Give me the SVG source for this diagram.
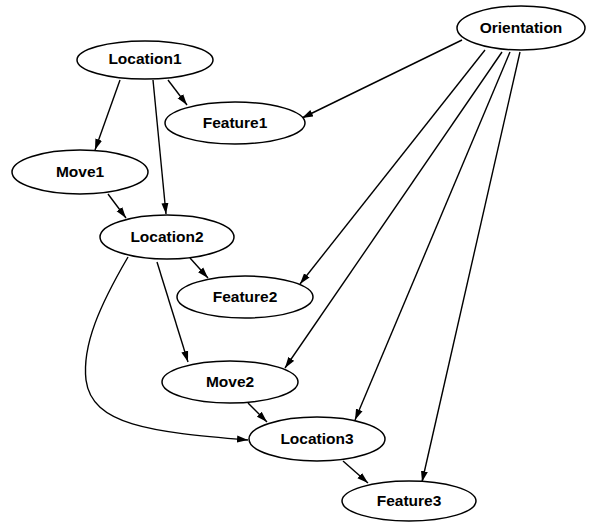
<svg xmlns="http://www.w3.org/2000/svg" width="589" height="524" viewBox="0 0 589 524">
<defs>
<marker id="ah" markerWidth="12" markerHeight="8" refX="11" refY="4" orient="auto" markerUnits="userSpaceOnUse">
<path d="M0,0.5 L11,4 L0,7.5 Z" fill="#000"/>
</marker>
<style>
.n ellipse{fill:#fff;stroke:#000;stroke-width:1.5}
.n text{font-family:"Liberation Sans",Arial,sans-serif;font-weight:bold;font-size:15.5px;text-anchor:middle;fill:#000}
.e path{fill:none;stroke:#000;stroke-width:1.4;marker-end:url(#ah)}
</style>
</defs>
<rect width="589" height="524" fill="#fff"/>
<g class="e" id="edges">
<path d="M168,80 L187,105"/>
<path d="M120,80 L95,150"/>
<path d="M153,80 L166,214"/>
<path d="M108,194 L126,218"/>
<path d="M190,258 L208,278"/>
<path d="M157,262 L188,362"/>
<path d="M128,257 C100,305 82,345 86,380 C92,425 150,432 248,440"/>
<path d="M248,403 L267,422"/>
<path d="M343,461 L368,483"/>
<path d="M462,40 L302,118"/>
<path d="M485,50 L300,284"/>
<path d="M502,52 L285,368"/>
<path d="M510,52 L355,420"/>
<path d="M520,52 L422,482"/>
</g>
<g class="n" id="Location1"><ellipse cx="145" cy="60" rx="68" ry="19"/><text x="145" y="64">Location1</text></g>
<g class="n" id="Orientation"><ellipse cx="521" cy="28" rx="64" ry="22"/><text x="521" y="33">Orientation</text></g>
<g class="n" id="Feature1"><ellipse cx="235" cy="123" rx="70" ry="21"/><text x="235" y="128">Feature1</text></g>
<g class="n" id="Move1"><ellipse cx="80" cy="172" rx="68" ry="22"/><text x="80" y="177">Move1</text></g>
<g class="n" id="Location2"><ellipse cx="167" cy="237" rx="67" ry="22"/><text x="167" y="242">Location2</text></g>
<g class="n" id="Feature2"><ellipse cx="245" cy="297" rx="68" ry="21"/><text x="245" y="302">Feature2</text></g>
<g class="n" id="Move2"><ellipse cx="230" cy="382" rx="68" ry="21"/><text x="230" y="387">Move2</text></g>
<g class="n" id="Location3"><ellipse cx="317" cy="439" rx="68" ry="22"/><text x="317" y="444">Location3</text></g>
<g class="n" id="Feature3"><ellipse cx="409" cy="501" rx="67" ry="20"/><text x="409" y="506">Feature3</text></g>
</svg>
